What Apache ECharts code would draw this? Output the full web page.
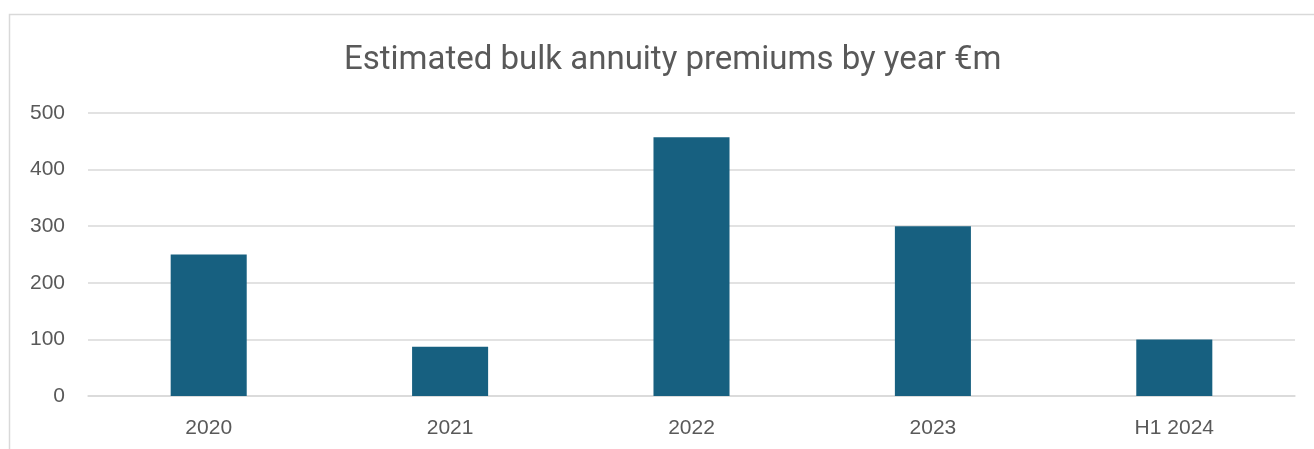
<!DOCTYPE html>
<html>
<head>
<meta charset="utf-8">
<script src="https://cdn.jsdelivr.net/npm/echarts@6/dist/echarts.min.js"></script>
<style>
  html, body { margin: 0; padding: 0; background: #fff; }
  #chart { width: 1314px; height: 449px; }
</style>
</head>
<body>
<div id="chart"></div>
<script>
// Bulk annuity premiums by year (€m)
const categories = ['2020', '2021', '2022', '2023', 'H1 2024'];
const premiums = [250, 87, 457, 300, 100];
const yTicks = [0, 100, 200, 300, 400, 500];

const chart = echarts.init(document.getElementById('chart'));
const textColor = '#595959';
const titleFont = 'Roboto, "Open Sans", sans-serif';
const labelFont = '"Liberation Sans", Arial, sans-serif';

chart.setOption({
  animation: false,
  graphic: [{
    type: 'rect',
    shape: { x: 9.5, y: 14.5, width: 1320, height: 460 },
    style: { fill: 'none', stroke: '#d9d9d9', lineWidth: 1.5 },
    silent: true
  }],
  title: {
    text: 'Estimated bulk annuity premiums by year €m',
    left: 339,
    top: 39,
    textStyle: { color: textColor, fontFamily: titleFont, fontSize: 33, fontWeight: 'normal' }
  },
  grid: { left: 88, right: 19, top: 113, bottom: 53, containLabel: false },
  xAxis: {
    type: 'category',
    data: categories,
    axisLine: { lineStyle: { color: '#d9d9d9', width: 1.5 } },
    axisTick: { show: false },
    axisLabel: { color: textColor, fontFamily: labelFont, fontSize: 21, margin: 22 }
  },
  yAxis: {
    type: 'value',
    min: yTicks[0],
    max: yTicks[yTicks.length - 1],
    interval: 100,
    axisLine: { show: false },
    axisTick: { show: false },
    splitLine: { lineStyle: { color: '#d9d9d9', width: 1.5 } },
    axisLabel: { color: textColor, fontFamily: labelFont, fontSize: 21, margin: 23 }
  },
  series: [{
    type: 'bar',
    data: premiums,
    barWidth: '31.5%',
    itemStyle: { color: '#176080' }
  }]
});
</script>
</body>
</html>
